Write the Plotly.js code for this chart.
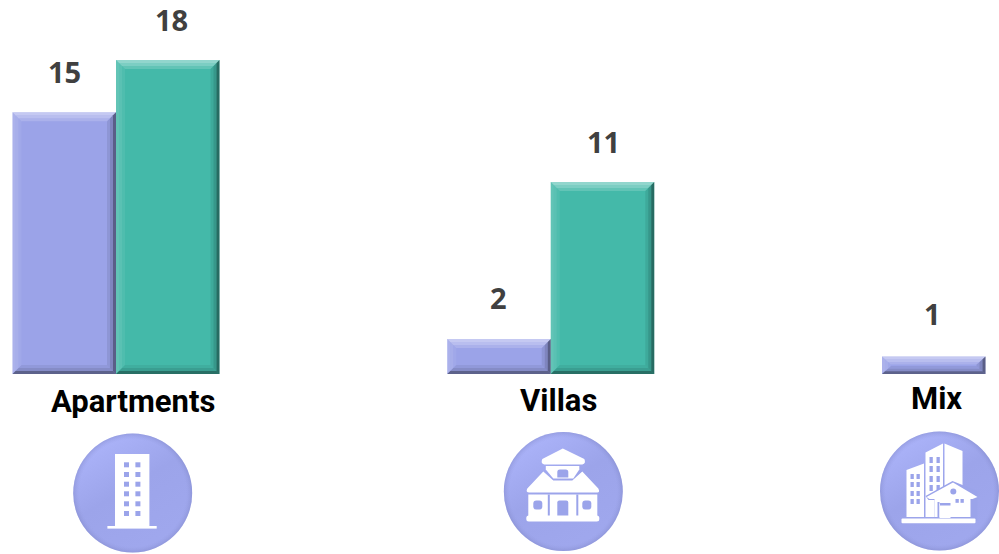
<!DOCTYPE html>
<html><head><meta charset="utf-8">
<script src="https://cdn.plot.ly/plotly-3.0.1.min.js"></script>
<style>html,body{margin:0;padding:0;background:#fff;overflow:hidden}</style>
</head><body><div id="chart" style="width:999px;height:554px"></div>
<script>
const categories = ['Apartments', 'Villas', 'Mix'];
const purpleValues = [15, 2, 1];
const greenValues = [18, 11, null];

const W = 999, H = 554, BASE = 374;
const CAT_PX = 434.75, CAT0_PX = 116, UNIT_PX = 17.45;
const BAR_W = 103.5 / CAT_PX;
const xRange = [-CAT0_PX / CAT_PX, (W - CAT0_PX) / CAT_PX];
const yMax = BASE / UNIT_PX;

// Bevel alpha per ring, outermost first
const ringAlpha = {
  top: ['rgba(255,255,255,0.42)', 'rgba(255,255,255,0.30)', 'rgba(255,255,255,0.16)'],
  left: ['rgba(255,255,255,0.16)', 'rgba(255,255,255,0.12)', 'rgba(255,255,255,0.06)'],
  right: ['rgba(0,0,0,0.42)', 'rgba(0,0,0,0.18)', 'rgba(0,0,0,0.08)'],
  bottom: ['rgba(0,0,0,0.40)', 'rgba(0,0,0,0.14)', 'rgba(0,0,0,0.06)']
};
function bevels(center, value) {
  if (value == null) return [];
  const x0 = center - BAR_W / 2, x1 = center + BAR_W / 2, h = value * UNIT_PX;
  const vs = Math.min(1, h * 0.46 / 9), out = [];
  const poly = (pts, fill) => ({type: 'path', xref: 'x', yref: 'y', layer: 'above', line: {width: 0}, fillcolor: fill,
    path: 'M' + pts.map(p => p[0] + ',' + p[1]).join('L') + 'Z'});
  for (let k = 0; k < 3; k++) {
    const a = 3 * k, b = a + 3;
    const xa = a / CAT_PX, xb = b / CAT_PX, ya = a * vs / UNIT_PX, yb = b * vs / UNIT_PX;
    out.push(poly([[x0 + xa, value - ya], [x1 - xa, value - ya], [x1 - xb, value - yb], [x0 + xb, value - yb]], ringAlpha.top[k]));
    out.push(poly([[x0 + xa, value - ya], [x0 + xb, value - yb], [x0 + xb, yb], [x0 + xa, ya]], ringAlpha.left[k]));
    out.push(poly([[x1 - xa, value - ya], [x1 - xb, value - yb], [x1 - xb, yb], [x1 - xa, ya]], ringAlpha.right[k]));
    out.push(poly([[x0 + xa, ya], [x1 - xa, ya], [x1 - xb, yb], [x0 + xb, yb]], ringAlpha.bottom[k]));
  }
  return out;
}

const shapes = [];
categories.forEach((c, i) => {
  shapes.push(...bevels(i - BAR_W / 2, purpleValues[i]));
  shapes.push(...bevels(i + BAR_W / 2, greenValues[i]));
});

const numFont = {family: '"Noto Sans", sans-serif', size: 29, color: '#404040', weight: 700};
const catFont = {family: 'Roboto, sans-serif', size: 31, color: '#000000', weight: 700};
const annotations = [];
const valAnn = (x, v, xs, ys) => ({x, y: v, xref: 'x', yref: 'y', text: '<b>' + v + '</b>', showarrow: false,
  xanchor: 'center', yanchor: 'middle', xshift: xs, yshift: ys, font: numFont});
const purpleShift = [0.5, -1, -1], greenShift = [4, 1, 0];
const purpleLift = [41, 42, 43], greenLift = [40.5, 41, 41];
categories.forEach((c, i) => {
  annotations.push(valAnn(i - BAR_W / 2, purpleValues[i], purpleShift[i], purpleLift[i]));
  if (greenValues[i] != null) annotations.push(valAnn(i + BAR_W / 2, greenValues[i], greenShift[i], greenLift[i]));
});
const labelShift = [[17, -27], [7.5, -26], [-49.5, -24]];
categories.forEach((c, i) => annotations.push({x: i, y: 0, xref: 'x', yref: 'y', text: '<b>' + c + '</b>', showarrow: false,
  xanchor: 'center', yanchor: 'middle', xshift: labelShift[i][0], yshift: labelShift[i][1], font: catFont}));

const P = '#9ba4ea';
const disc = `<defs><radialGradient id="g" cx="50%" cy="50%" r="50%"><stop offset="0.9" stop-color="#8e95d8" stop-opacity="0"/><stop offset="1" stop-color="#747bba"/></radialGradient>
<linearGradient id="h" x1="0.2" y1="0" x2="0.8" y2="1"><stop offset="0" stop-color="#adb5fb"/><stop offset="0.45" stop-color="#9ca4ea"/><stop offset="1" stop-color="#a0a8ee"/></linearGradient></defs>
<circle cx="60" cy="60" r="59.5" fill="url(#h)"/><circle cx="60" cy="60" r="59.5" fill="url(#g)" opacity="0.35"/>`;

const aptWin = [29.3, 39, 48.7, 58.3, 68.3, 78].map(y => [51.3, 62.7].map(x => `<rect x="${x}" y="${y}" width="5" height="5" fill="${P}"/>`).join('')).join('');
const iconApt = `<rect x="42.3" y="21" width="34.4" height="72" fill="#fff"/><rect x="34.7" y="93" width="49.3" height="2.6" fill="#fff"/>` + aptWin;
const iconVilla = `<g fill="#fff"><path d="M59.5 17 L39 27.5 Q37 32 41 33 L79 33 Q83 32 81 27.5Z"/>
<path d="M42.5 34.5 L76 34.5 L76 38 L70 47 L50 47 L42.5 38Z"/>
<path d="M40 40 L50 49 L69 49 L79 40 L95 57 Q97 61 94 61 L26 61 Q22 61 24 57Z"/>
<rect x="25" y="63" width="69" height="24"/><rect x="23" y="84" width="73" height="6" rx="2.5"/></g>
<path d="M54 46 L54 40.5 Q54 38 56.5 38 L62.5 38 Q65 38 65 40.5 L65 46Z" fill="${P}"/>
<rect x="44.5" y="63" width="2" height="21" fill="${P}"/><rect x="73" y="63" width="2" height="21" fill="${P}"/>
<path d="M54 84 L54 71 Q54 69 56 69 L63 69 Q65 69 65 71 L65 84Z" fill="${P}"/>
<rect x="30" y="69" width="9" height="9" rx="3" fill="${P}"/><rect x="79" y="69" width="9" height="9" rx="3" fill="${P}"/>`;
const rects = (xs, ys, w, h) => ys.map(y => xs.map(x => `<rect x="${x}" y="${y}" width="${w}" height="${h}" fill="${P}"/>`).join('')).join('');
const iconMix = `<g fill="#fff"><path d="M27 39 L44.5 32.5 L44.5 86 L27 86Z"/><path d="M46 21.5 L63.5 12.5 L63.5 86 L46 86Z"/>
<path d="M65 12.5 L83 20 L83 60 L65 60Z"/></g>
${rects([31, 37], [43, 51, 60, 68], 3.3, 5)}${rects([50, 57], [26, 35, 45, 54], 3.3, 6)}
<path d="M73 50 L46 65 L49 69 L55 69 L55 90 L98 90 L98 60Z" fill="${P}"/>
<g fill="#fff"><path d="M73.5 51.5 L98 66 L93 68 L91 68 L91 86 L55 86 L55 68 L50 68 L47 66Z"/></g>
<rect x="58" y="71" width="2" height="16" fill="${P}"/><rect x="60" y="73" width="11" height="14" fill="#fff"/><path d="M60.5 72 L71 72 L71 74.5 L60.5 74.5Z" fill="${P}"/>
<circle cx="73.8" cy="60.5" r="3" fill="${P}"/><rect x="76" y="68" width="3.3" height="3.8" fill="${P}"/><rect x="81" y="68" width="3.3" height="3.8" fill="${P}"/>
<rect x="22" y="87.5" width="74" height="4.7" rx="1" fill="#fff"/>`;

const svgUri = body => 'data:image/svg+xml;utf8,' + encodeURIComponent(`<svg xmlns="http://www.w3.org/2000/svg" width="120" height="120" viewBox="0 0 120 120">${disc}${body}</svg>`);
const iconImage = (src, cx, cy) => ({source: svgUri(src), xref: 'paper', yref: 'paper', x: (cx - 60) / W, y: 1 - (cy - 60) / BASE,
  sizex: 120 / W, sizey: 120 / BASE, xanchor: 'left', yanchor: 'top', sizing: 'stretch', layer: 'above'});

const traces = [
  {type: 'bar', name: 'Purple', x: categories, y: purpleValues, marker: {color: '#9ba3e8', line: {width: 0}}, hoverinfo: 'x+y'},
  {type: 'bar', name: 'Green', x: categories, y: greenValues, marker: {color: '#44b9a9', line: {width: 0}}, hoverinfo: 'x+y'}
];
const layout = {
  width: W, height: H, margin: {l: 0, r: 0, t: 0, b: H - BASE, pad: 0},
  paper_bgcolor: '#fff', plot_bgcolor: '#fff', showlegend: false,
  barmode: 'group', bargap: 1 - 2 * BAR_W, bargroupgap: 0,
  xaxis: {type: 'category', range: xRange, visible: false, fixedrange: true},
  yaxis: {range: [0, yMax], visible: false, fixedrange: true},
  shapes, annotations,
  images: [iconImage(iconApt, 132.7, 493), iconImage(iconVilla, 563.3, 491.5), iconImage(iconMix, 939.5, 491)]
};
Plotly.newPlot('chart', traces, layout, {displayModeBar: false, staticPlot: true});
</script></body></html>
